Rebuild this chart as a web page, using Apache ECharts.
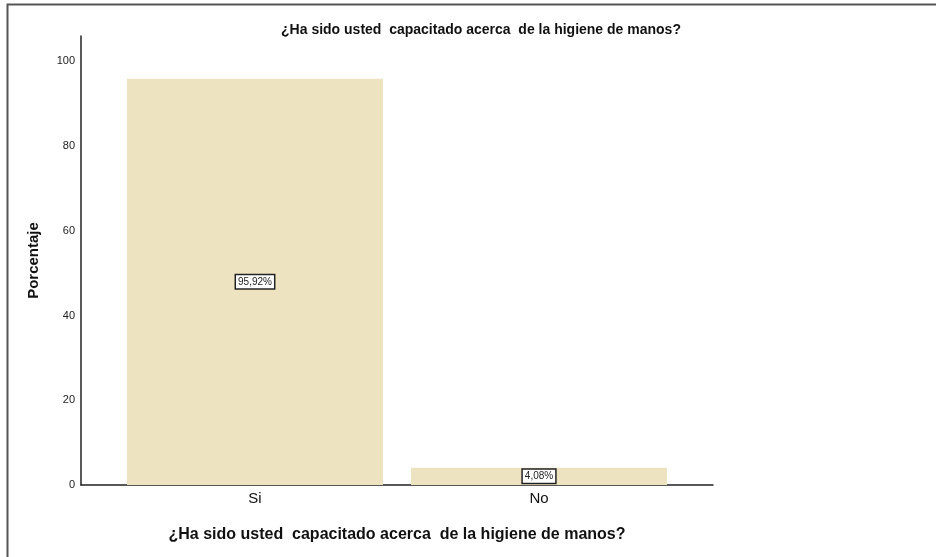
<!DOCTYPE html>
<html>
<head>
    <meta charset="UTF-8">
    <title>¿Ha sido usted capacitado acerca de la higiene de manos?</title>
    <style>
        html, body {
            margin: 0;
            padding: 0;
            width: 100%;
            height: 100%;
            overflow: hidden;
            background: #fff;
        }
        #main {
            width: 937px;
            height: 557px;
        }
    </style>
    <script src="https://cdn.jsdelivr.net/npm/echarts@6/dist/echarts.min.js"></script>
</head>
<body>
    <div id="main"></div>
    <script>
        // Data
        const categories = ['Si', 'No'];
        const percentages = [95.92, 4.08];
        const yTicks = [0, 20, 40, 60, 80, 100];

        const titleText = '¿Ha sido usted  capacitado acerca  de la higiene de manos?';
        const font = '"Liberation Sans Narrow", "Liberation Sans", Arial, sans-serif';

        const chart = echarts.init(document.getElementById('main'));

        const yMax = 106;
        const option = {
            backgroundColor: '#fff',
            animation: false,
            title: {
                text: titleText,
                left: 476,
                top: 18,
                textAlign: 'center',
                textStyle: { fontFamily: font, fontSize: 14, fontWeight: 'bold', color: '#111' }
            },
            // outer frame (top and left edges only)
            graphic: [{
                type: 'polyline',
                shape: { points: [[7.5, 560], [7.5, 4.5], [936, 4.5]] },
                style: { stroke: '#555', lineWidth: 2, fill: null }
            }],
            grid: [
                // axes frame
                { left: 81, top: 36, width: 632, height: 449 },
                // bars
                { left: 113, top: 36, width: 568, height: 449 }
            ],
            xAxis: [
                {
                    gridIndex: 0, type: 'category', data: [''],
                    axisLine: { lineStyle: { color: '#222', width: 1.5 } },
                    axisTick: { show: false }, axisLabel: { show: false },
                    name: titleText, nameLocation: 'middle', nameGap: 42,
                    nameTextStyle: { fontFamily: font, fontSize: 16, fontWeight: 'bold', color: '#111' }
                },
                {
                    gridIndex: 1, type: 'category', data: categories,
                    axisLine: { show: false }, axisTick: { show: false },
                    axisLabel: { fontFamily: font, fontSize: 15, color: '#111', margin: 6 }
                }
            ],
            yAxis: [
                {
                    gridIndex: 0, type: 'value', min: 0, max: yMax, interval: 20,
                    axisLine: { show: true, lineStyle: { color: '#222', width: 1.5 } },
                    axisTick: { show: false },
                    splitLine: { show: false },
                    axisLabel: {
                        fontFamily: font, fontSize: 11, color: '#222', margin: 6,
                        showMaxLabel: false,
                        formatter: v => yTicks.includes(v) ? String(v) : ''
                    },
                    name: 'Porcentaje', nameLocation: 'middle', nameGap: 40, nameRotate: 90,
                    nameTextStyle: { fontFamily: font, fontSize: 15, fontWeight: 'bold', color: '#111' }
                },
                {
                    gridIndex: 1, type: 'value', min: 0, max: yMax, show: false
                }
            ],
            series: [{
                type: 'bar',
                xAxisIndex: 1,
                yAxisIndex: 1,
                data: percentages,
                barWidth: 256,
                itemStyle: { color: '#EEE3C1' },
                label: {
                    show: true,
                    position: 'inside',
                    formatter: p => p.value.toFixed(2).replace('.', ',') + '%',
                    fontFamily: font, fontSize: 10, color: '#222',
                    backgroundColor: '#fff', borderColor: '#222', borderWidth: 1.5,
                    padding: [2, 2, 1, 2]
                }
            }]
        };

        chart.setOption(option);
    </script>
</body>
</html>
